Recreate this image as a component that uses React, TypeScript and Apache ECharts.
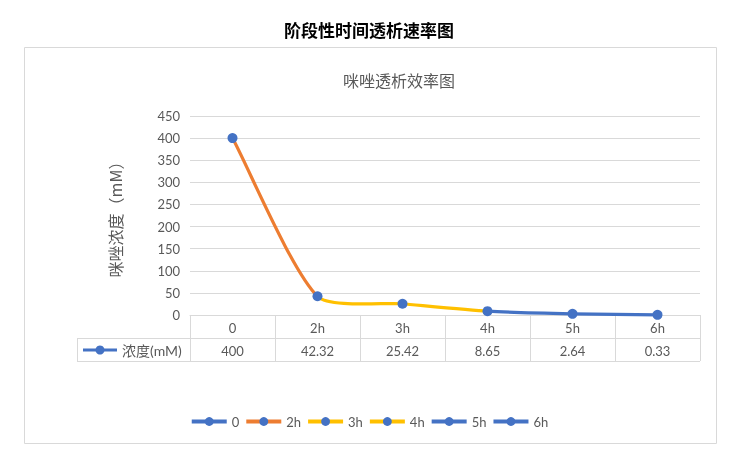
import React, { useEffect, useRef } from "react";
import * as echarts from "echarts";

const categories = ["0", "2h", "3h", "4h", "5h", "6h"];
const values = [400, 42.32, 25.42, 8.65, 2.64, 0.33];
const legendColors = ["#4472C4", "#ED7D31", "#FFC000", "#FFC000", "#4472C4", "#4472C4"];
const seriesName = "浓度(mM)";
const mainTitle = "阶段性时间透析速率图";
const subTitle = "咪唑透析效率图";
const yName = "咪唑浓度（mM）";

const BLUE = "#4472C4";
const GRID_COLOR = "#d9d9d9";
const TEXT = "#595959";
const FONT = "Lato, 'Noto Sans CJK SC', sans-serif";

export default function App() {
  const ref = useRef<HTMLDivElement>(null);
  useEffect(() => {
    document.body.style.margin = "0";
    const chart = echarts.init(ref.current!, undefined, { renderer: "svg" });
    const gridLeft = 190;
    const gridRight = 700;
    const gridBottomY = 315;
    const rowH = 23;
    const colLeft = 77.5;

    const legendSeries = categories.map((c, i) => ({
      name: c,
      type: "line" as const,
      data: [] as number[],
      symbol: "circle",
      symbolSize: 9,
      itemStyle: { color: BLUE },
      lineStyle: { color: legendColors[i], width: 3 },
    }));

    // smoothed segments: tangent = direction(next - prev), control length ∝ segment length
    const K = 0.2;
    const renderSegment = (params: any, api: any) => {
      const i = params.dataIndex;
      if (i === 0) return null;
      const n = values.length;
      const pt = (k: number) => {
        const kk = Math.max(0, Math.min(n - 1, k));
        return api.coord([kk, values[kk]]);
      };
      const p0 = pt(i - 2);
      const p1 = pt(i - 1);
      const p2 = pt(i);
      const p3 = pt(i + 1);
      const segLen = Math.hypot(p2[0] - p1[0], p2[1] - p1[1]);
      const unit = (a: number[], b: number[]) => {
        const dx = b[0] - a[0];
        const dy = b[1] - a[1];
        const l = Math.hypot(dx, dy) || 1;
        return [dx / l, dy / l];
      };
      const t1 = unit(p0, p2);
      const t2 = unit(p1, p3);
      const cp1x = p1[0] + t1[0] * K * segLen;
      const cp1y = p1[1] + t1[1] * K * segLen;
      const cp2x = p2[0] - t2[0] * K * segLen;
      const cp2y = p2[1] - t2[1] * K * segLen;
      return {
        type: "bezierCurve",
        shape: { x1: p1[0], y1: p1[1], x2: p2[0], y2: p2[1], cpx1: cp1x, cpy1: cp1y, cpx2: cp2x, cpy2: cp2y },
        style: { stroke: legendColors[i], lineWidth: 3.2, fill: "none", lineCap: "round" },
      };
    };

    chart.setOption({
      animation: false,
      textStyle: { fontFamily: FONT },
      title: [
        {
          text: mainTitle,
          left: "center",
          top: 16,
          textStyle: { fontSize: 17, fontWeight: "bold", color: "#000", fontFamily: "'Noto Sans CJK SC', sans-serif" },
        },
        {
          text: subTitle,
          left: 394,
          textAlign: "center",
          top: 67,
          textStyle: { fontSize: 16, fontWeight: "normal", color: TEXT, fontFamily: "'Noto Sans CJK SC', sans-serif" },
        },
      ],
      legend: {
        data: categories,
        top: 410,
        left: "center",
        itemWidth: 35,
        itemHeight: 11,
        itemGap: 5,
        lineStyle: { width: 4 },
        textStyle: { color: TEXT, fontSize: 13, fontFamily: FONT },
      },
      grid: { left: gridLeft, right: 738 - gridRight, top: 116, bottom: 469 - gridBottomY },
      xAxis: [
        {
          type: "category",
          data: categories,
          boundaryGap: true,
          axisLine: { show: true, lineStyle: { color: GRID_COLOR, width: 1 } },
          axisTick: { show: true, length: rowH, interval: 0, lineStyle: { color: GRID_COLOR } },
          axisLabel: { color: TEXT, fontSize: 13, margin: 6, interval: 0 },
          splitLine: { show: false },
        },
        {
          type: "category",
          data: categories,
          position: "bottom",
          offset: rowH,
          boundaryGap: true,
          axisLine: { show: true, lineStyle: { color: GRID_COLOR, width: 1 } },
          axisTick: { show: true, length: rowH, interval: 0, lineStyle: { color: GRID_COLOR } },
          axisLabel: {
            color: TEXT,
            fontSize: 13,
            margin: 6,
            interval: 0,
            formatter: (_v: string, i: number) => String(values[i]),
          },
        },
      ],
      yAxis: {
        type: "value",
        min: 0,
        max: 450,
        interval: 50,
        name: yName,
        nameLocation: "middle",
        nameGap: 67,
        nameTextStyle: { color: TEXT, fontSize: 16, fontFamily: "'Noto Sans CJK SC', sans-serif" },
        axisLine: { show: false },
        axisTick: { show: false },
        axisLabel: { color: TEXT, fontSize: 13, margin: 10 },
        splitLine: { lineStyle: { color: GRID_COLOR, width: 1 } },
      },
      series: [
        {
          name: seriesName,
          type: "custom",
          data: values.map((v, i) => [i, v]),
          encode: { x: 0, y: 1 },
          renderItem: renderSegment,
          clip: false,
          z: 2,
        },
        {
          name: seriesName + " ",
          type: "scatter",
          data: values,
          symbol: "circle",
          symbolSize: 10,
          itemStyle: { color: BLUE, opacity: 1 },
          z: 3,
        },
        ...legendSeries,
      ],
      graphic: [
        {
          type: "rect",
          shape: { x: 24.5, y: 47.5, width: 692, height: 396 },
          style: { fill: "none", stroke: GRID_COLOR, lineWidth: 1 },
        },
        {
          type: "line",
          shape: { x1: colLeft, y1: gridBottomY + rowH + 0.5, x2: gridLeft, y2: gridBottomY + rowH + 0.5 },
          style: { stroke: GRID_COLOR, lineWidth: 1 },
        },
        {
          type: "line",
          shape: { x1: colLeft, y1: gridBottomY + 2 * rowH + 0.5, x2: gridRight, y2: gridBottomY + 2 * rowH + 0.5 },
          style: { stroke: GRID_COLOR, lineWidth: 1 },
        },
        {
          type: "line",
          shape: { x1: colLeft, y1: gridBottomY + rowH, x2: colLeft, y2: gridBottomY + 2 * rowH + 1 },
          style: { stroke: GRID_COLOR, lineWidth: 1 },
        },
        {
          type: "line",
          shape: { x1: 83, y1: gridBottomY + rowH * 1.5 + 0.5, x2: 117, y2: gridBottomY + rowH * 1.5 + 0.5 },
          style: { stroke: BLUE, lineWidth: 3 },
        },
        {
          type: "circle",
          shape: { cx: 100, cy: gridBottomY + rowH * 1.5 + 0.5, r: 4.5 },
          style: { fill: BLUE },
        },
        {
          type: "text",
          x: 122,
          y: gridBottomY + rowH * 1.5 + 0.5,
          style: { text: seriesName, fill: TEXT, fontSize: 14, fontFamily: FONT, verticalAlign: "middle", align: "left" },
        },
      ],
    });
    return () => chart.dispose();
  }, []);
  return <div ref={ref} style={{ width: 738, height: 469, position: "fixed", left: 0, top: 0 }} />;
}
